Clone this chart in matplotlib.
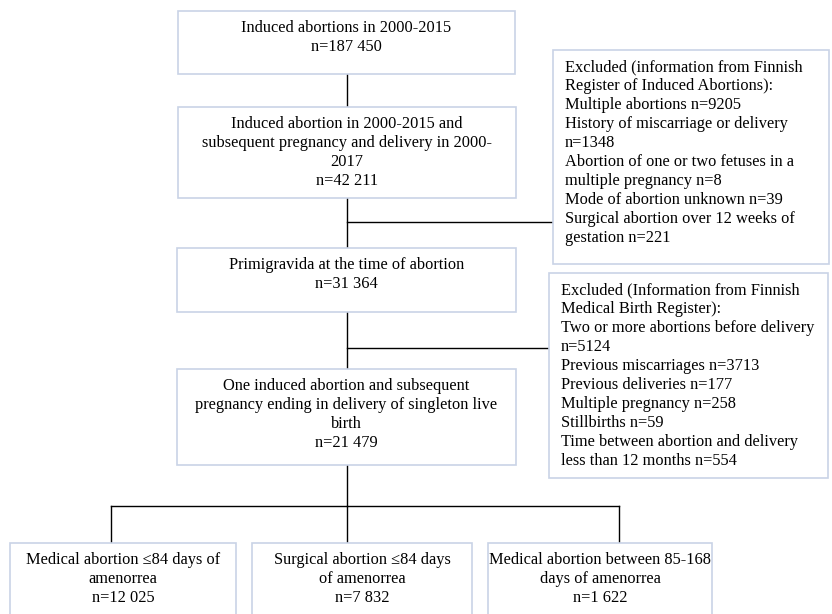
import matplotlib
matplotlib.use("Agg")
import matplotlib.pyplot as plt
from matplotlib.patches import Rectangle

plt.rcParams['font.family'] = ['Liberation Serif', 'DejaVu Serif']

# flow chart texts
main_labels = [
    "Induced abortions in 2000-2015\nn=187 450",
    "Induced abortion in 2000-2015 and\nsubsequent pregnancy and delivery in 2000-\n2017\nn=42 211",
    "Primigravida at the time of abortion\nn=31 364",
    "One induced abortion and subsequent\npregnancy ending in delivery of singleton live\nbirth\nn=21 479",
]
excluded_labels = [
    "Excluded (information from Finnish\nRegister of Induced Abortions):\nMultiple abortions n=9205\n"
    "History of miscarriage or delivery\nn=1348\nAbortion of one or two fetuses in a\n"
    "multiple pregnancy n=8\nMode of abortion unknown n=39\nSurgical abortion over 12 weeks of\n"
    "gestation n=221",
    "Excluded (Information from Finnish\nMedical Birth Register):\nTwo or more abortions before delivery\n"
    "n=5124\nPrevious miscarriages n=3713\nPrevious deliveries n=177\nMultiple pregnancy n=258\n"
    "Stillbirths n=59\nTime between abortion and delivery\nless than 12 months n=554",
]
group_labels = [
    "Medical abortion \u226484 days of\namenorrea\nn=12 025",
    "Surgical abortion \u226484 days\nof amenorrea\nn=7 832",
    "Medical abortion between 85-168\ndays of amenorrea\nn=1 622",
]

# layout in pixels (x0, y0, x1, y1), y downwards
main_boxes = [(178, 11, 515, 74), (178, 107, 516, 198), (177, 248, 516, 312), (177, 369, 516, 465)]
excl_boxes = [(553, 50, 829, 264), (549, 273, 828, 478)]
group_boxes = [(10, 543, 236, 630), (252, 543, 472, 630), (488, 543, 712, 630)]
spine_x = 347
branch_y = [222, 348]
split_y = 506
drop_x = [111, 347, 619]

box_color = "#c9d3e6"
fs = 11.8
ls = 1.25

fig = plt.figure(figsize=(8.32, 6.14), dpi=100)
ax = fig.add_axes([0, 0, 1, 1])
ax.set_xlim(0, 832)
ax.set_ylim(614, 0)
ax.axis("off")


def box(b):
    x0, y0, x1, y1 = b
    ax.add_patch(Rectangle((x0, y0), x1 - x0, y1 - y0, facecolor="white",
                           edgecolor=box_color, lw=1.2, zorder=2))


# connectors
ax.plot([spine_x, spine_x], [main_boxes[0][3], split_y], color="black", lw=1, zorder=1)
for y, b in zip(branch_y, excl_boxes):
    ax.plot([spine_x, b[0]], [y, y], color="black", lw=1, zorder=1)
ax.plot([drop_x[0], drop_x[-1]], [split_y, split_y], color="black", lw=1, zorder=1)
for x, b in zip(drop_x, group_boxes):
    ax.plot([x, x], [split_y, b[1]], color="black", lw=1, zorder=1)

for b, t in zip(main_boxes, main_labels):
    box(b)
    ax.text((b[0] + b[2]) / 2, b[1] + 9, t, ha="center", va="top",
            fontsize=fs, linespacing=ls, zorder=3)

for b, t in zip(excl_boxes, excluded_labels):
    box(b)
    ax.text(b[0] + 12, b[1] + 9, t, ha="left", va="top",
            fontsize=fs, linespacing=ls, zorder=3)

for b, t in zip(group_boxes, group_labels):
    box(b)
    ax.text((b[0] + b[2]) / 2, b[1] + 9, t, ha="center", va="top",
            fontsize=fs, linespacing=ls, zorder=3)

fig.savefig("out.png", dpi=100)
